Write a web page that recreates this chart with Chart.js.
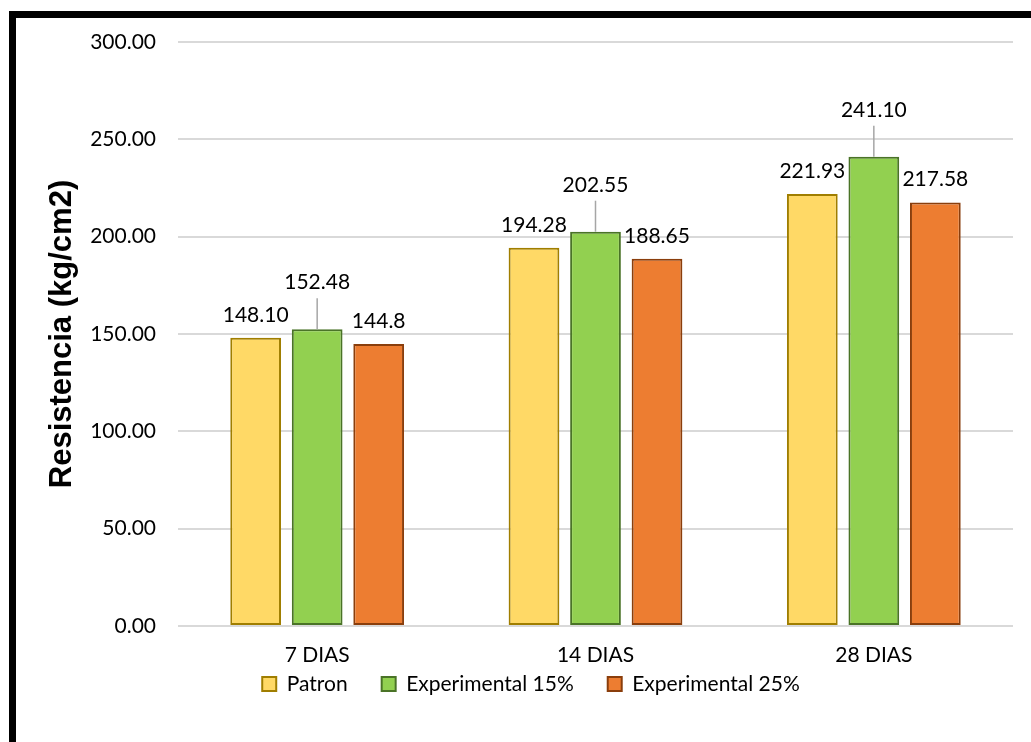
<!DOCTYPE html>
<html>
<head>
<meta charset="utf-8">
<title>Resistencia</title>
<script src="https://cdn.jsdelivr.net/npm/chart.js@4.4.1/dist/chart.umd.min.js"></script>
<style>
  html, body { margin: 0; padding: 0; background: #fff; overflow: hidden; }
  #wrap { position: relative; width: 1031px; height: 742px; }
  #c { position: absolute; left: 0; top: 0; }
  #frame {
    position: absolute; left: 9px; top: 11px; right: 0; bottom: 0;
    border-top: 7px solid #000; border-left: 7px solid #000;
    pointer-events: none;
  }
</style>
</head>
<body>
<div id="wrap">
  <canvas id="c" width="1031" height="742"></canvas>
  <div id="frame"></div>
</div>
<script>
// Compressive strength by curing age
const categories = ['7 DIAS', '14 DIAS', '28 DIAS'];
const seriesNames = ['Patron', 'Experimental 15%', 'Experimental 25%'];
const patron = [148.10, 194.28, 221.93];
const experimental15 = [152.48, 202.55, 241.10];
const experimental25 = [144.8, 188.65, 217.58];
const patronLabels = ['148.10', '194.28', '221.93'];
const experimental15Labels = ['152.48', '202.55', '241.10'];
const experimental25Labels = ['144.8', '188.65', '217.58'];
const yTickValues = [0, 50, 100, 150, 200, 250, 300];
const yTitle = 'Resistencia (kg/cm2)';

const TEXT_FONT = 'Lato';
const LEGEND_LIFT = 45.7;   // pulls the legend row up closer to the category labels

// Value labels above each bar; the middle series uses a callout with a leader line
const valueLabelPlugin = {
  id: 'valueLabels',
  afterDatasetsDraw(chart) {
    const ctx = chart.ctx;
    ctx.save();
    ctx.font = '21px ' + TEXT_FONT;
    ctx.fillStyle = '#000';
    ctx.textAlign = 'center';
    ctx.textBaseline = 'alphabetic';
    chart.data.datasets.forEach((ds, i) => {
      const meta = chart.getDatasetMeta(i);
      if (meta.hidden) return;
      meta.data.forEach((bar, j) => {
        const lift = ds.callout ? 40 : 16;
        const baseY = bar.y - lift;
        if (ds.callout) {
          ctx.strokeStyle = '#A6A6A6';
          ctx.lineWidth = 1.5;
          ctx.beginPath();
          ctx.moveTo(bar.x, bar.y);
          ctx.lineTo(bar.x, baseY + 9);
          ctx.stroke();
        }
        ctx.fillText(ds.valueText[j], bar.x, baseY);
      });
    });
    ctx.restore();
  }
};

// Moves the laid-out legend box upward
const legendLiftPlugin = {
  id: 'legendLift',
  afterLayout(chart) {
    const lg = chart.legend;
    if (!lg) return;
    lg.top -= LEGEND_LIFT;
    lg.bottom -= LEGEND_LIFT;
  }
};

function draw() {
  new Chart(document.getElementById('c'), {
    type: 'bar',
    data: {
      labels: categories,
      datasets: [
        {
          label: seriesNames[0], data: patron, valueText: patronLabels,
          backgroundColor: '#FFD966', borderColor: '#A07E00'
        },
        {
          label: seriesNames[1], data: experimental15, valueText: experimental15Labels, callout: true,
          backgroundColor: '#92D050', borderColor: '#4A7327'
        },
        {
          label: seriesNames[2], data: experimental25, valueText: experimental25Labels,
          backgroundColor: '#ED7D31', borderColor: '#8A3E0C'
        }
      ]
    },
    options: {
      responsive: false,
      animation: false,
      devicePixelRatio: 1,
      layout: { padding: { top: 42, left: 49, right: 18, bottom: -8.2 } },
      datasets: {
        bar: {
          borderWidth: 2,
          borderSkipped: false,
          categoryPercentage: 0.663,
          barPercentage: 0.825
        }
      },
      scales: {
        x: {
          grid: { display: false, drawTicks: false },
          border: { display: false },
          ticks: { color: '#000', font: { family: TEXT_FONT, size: 21 }, padding: 17 }
        },
        y: {
          min: 0,
          max: 300,
          afterBuildTicks(scale) { scale.ticks = yTickValues.map(v => ({ value: v })); },
          grid: { color: '#D9D9D9', lineWidth: 2, drawTicks: false },
          border: { display: false },
          ticks: {
            color: '#000',
            font: { family: TEXT_FONT, size: 21 },
            padding: 22,
            callback: v => Number(v).toFixed(2)
          },
          title: {
            display: true,
            text: yTitle,
            color: '#000',
            font: { family: 'Liberation Sans', size: 31, weight: 'bold' },
            padding: { top: -5.6, bottom: 0 }
          },
          afterFit(scale) { scale.width = 129; }
        }
      },
      plugins: {
        legend: {
          position: 'bottom',
          labels: {
            color: '#000',
            font: { family: TEXT_FONT, size: 21 },
            boxWidth: 14,
            boxHeight: 14,
            padding: 34
          }
        },
        tooltip: { enabled: false }
      }
    },
    plugins: [valueLabelPlugin, legendLiftPlugin]
  });
}

Promise.all([
  document.fonts.load('21px ' + TEXT_FONT),
  document.fonts.load('bold 31px "Liberation Sans"')
]).then(draw, draw);
</script>
</body>
</html>
